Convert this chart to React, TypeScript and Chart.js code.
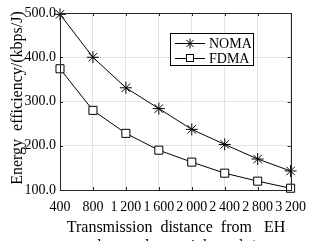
import React, { useEffect, useRef } from "react";
import { Chart, registerables } from "chart.js";

Chart.register(...registerables);

const distances = [400, 800, 1200, 1600, 2000, 2400, 2800, 3200];
const xTickLabels = ["400", "800", "1\u2009200", "1\u2009600", "2\u2009000", "2\u2009400", "2\u2009800", "3\u2009200"];
const nomaValues = [497, 400, 331, 284, 237, 203, 170, 143];
const fdmaValues = [374, 280, 228, 190, 163, 138, 120, 104];
const yTicks = [100, 200, 300, 400, 500];
const seriesNames = ["NOMA", "FDMA"];
const xTitle = ["Transmission  distance  from   EH", "relay  node  to  sink  node/m"];
const yTitle = "Energy  efficiency/(kbps/J)";

const FONT = "'Liberation Serif', 'Times New Roman', serif";

const overlay = {
  id: "overlay",
  afterDraw(chart: any) {
    const { ctx, chartArea } = chart;
    const { left, right, top, bottom } = chartArea;
    ctx.save();
    // axes box
    ctx.strokeStyle = "#262626";
    ctx.lineWidth = 1;
    ctx.strokeRect(Math.round(left) + 0.5, Math.round(top) + 0.5, Math.round(right - left), Math.round(bottom - top));
    // inward ticks
    const xs = chart.scales.x;
    const ys = chart.scales.y;
    ctx.beginPath();
    distances.forEach((d) => {
      const px = Math.round(xs.getPixelForValue(d)) + 0.5;
      ctx.moveTo(px, bottom);
      ctx.lineTo(px, bottom - 3);
      ctx.moveTo(px, top);
      ctx.lineTo(px, top + 3);
    });
    yTicks.forEach((v) => {
      const py = Math.round(ys.getPixelForValue(v)) + 0.5;
      ctx.moveTo(left, py);
      ctx.lineTo(left + 3, py);
      ctx.moveTo(right, py);
      ctx.lineTo(right - 3, py);
    });
    ctx.stroke();

    // axis titles
    ctx.fillStyle = "#000";
    ctx.font = `16px ${FONT}`;
    ctx.textAlign = "center";
    ctx.textBaseline = "alphabetic";
    ctx.fillText(xTitle[0], 176, 232);
    ctx.fillText(xTitle[1], 176, 251);
    ctx.save();
    ctx.translate(22, 98);
    ctx.rotate(-Math.PI / 2);
    ctx.fillText(yTitle, 0, 0);
    ctx.restore();

    // legend
    const bx = 170, by = 33, bw = 83, bh = 32;
    ctx.fillStyle = "#fff";
    ctx.fillRect(bx, by, bw, bh);
    ctx.strokeStyle = "#000";
    ctx.lineWidth = 1;
    ctx.strokeRect(bx + 0.5, by + 0.5, bw, bh);
    const rows = [43, 58];
    rows.forEach((ry, i) => {
      ctx.strokeStyle = "#000";
      ctx.beginPath();
      ctx.moveTo(175, ry + 0.5);
      ctx.lineTo(205, ry + 0.5);
      ctx.stroke();
      ctx.fillStyle = "#fff";
      ctx.lineWidth = 1;
      if (i === 0) {
        const r = 5;
        ctx.beginPath();
        for (let k = 0; k < 4; k++) {
          const a = (k * Math.PI) / 4;
          ctx.moveTo(190 + r * Math.cos(a), ry + 0.5 + r * Math.sin(a));
          ctx.lineTo(190 - r * Math.cos(a), ry + 0.5 - r * Math.sin(a));
        }
        ctx.stroke();
      } else {
        ctx.fillRect(186.5, ry - 3.5, 7, 7);
        ctx.strokeRect(186.5, ry - 3.5, 7, 7);
      }
      ctx.fillStyle = "#000";
      ctx.font = `14px ${FONT}`;
      ctx.textAlign = "left";
      ctx.textBaseline = "middle";
      ctx.fillText(seriesNames[i], 209, ry + 1);
    });
    ctx.restore();
  },
};

export default function App() {
  const ref = useRef<HTMLCanvasElement>(null);
  useEffect(() => {
    document.body.style.margin = "0";
    const chart = new Chart(ref.current!, {
      type: "line",
      data: {
        datasets: [
          {
            label: seriesNames[0],
            data: distances.map((d, i) => ({ x: d, y: nomaValues[i] })),
            borderColor: "#000",
            borderWidth: 1,
            pointStyle: "star",
            pointRadius: 6,
            pointBorderColor: "#000",
            pointBorderWidth: 1,
            pointBackgroundColor: "#000",
            tension: 0,
            clip: false,
          },
          {
            label: seriesNames[1],
            data: distances.map((d, i) => ({ x: d, y: fdmaValues[i] })),
            borderColor: "#000",
            borderWidth: 1,
            pointStyle: "rect",
            pointRadius: 5.7,
            pointBorderColor: "#000",
            pointBorderWidth: 1,
            pointBackgroundColor: "#fff",
            tension: 0,
            clip: false,
          },
        ],
      },
      options: {
        responsive: false,
        animation: false,
        events: [],
        layout: { padding: { left: 0, right: 13, top: 13, bottom: 0 } },
        plugins: { legend: { display: false }, tooltip: { enabled: false } },
        scales: {
          x: {
            type: "linear",
            min: 400,
            max: 3200,
            afterBuildTicks: (s: any) => {
              s.ticks = distances.map((v) => ({ value: v }));
            },
            afterFit: (s: any) => {
              s.height = 51;
            },
            ticks: {
              autoSkip: false,
              maxRotation: 0,
              padding: 9,
              color: "#000",
              font: { family: FONT, size: 14 },
              callback: (_v: any, i: number) => xTickLabels[i],
            },
            grid: { color: "#e3e3e3", drawTicks: false },
            border: { display: false },
          },
          y: {
            type: "linear",
            min: 100,
            max: 500,
            afterBuildTicks: (s: any) => {
              s.ticks = yTicks.map((v) => ({ value: v }));
            },
            afterFit: (s: any) => {
              s.width = 60;
            },
            ticks: {
              padding: 4,
              color: "#000",
              font: { family: FONT, size: 14 },
              callback: (v: any) => Number(v).toFixed(1),
            },
            grid: { color: "#e3e3e3", drawTicks: false },
            border: { display: false },
          },
        },
      },
      plugins: [overlay],
    });
    return () => chart.destroy();
  }, []);
  return (
    <div style={{ width: 315, height: 241 }}>
      <canvas ref={ref} width={315} height={241} />
    </div>
  );
}
